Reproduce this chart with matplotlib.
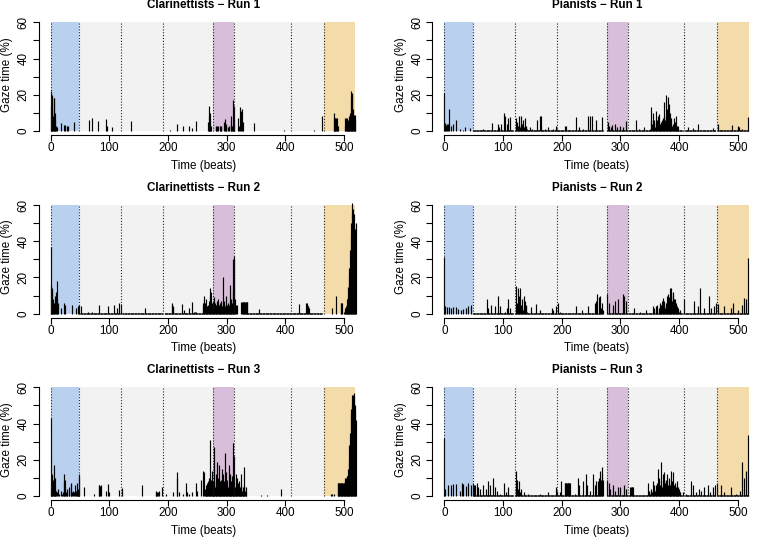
import numpy as np
import matplotlib
matplotlib.use("Agg")
import matplotlib.pyplot as plt

plt.rcParams['font.family'] = ['Liberation Sans', 'DejaVu Sans']

#score layout: section boundaries (beats) and shaded spans
n_beats = 521
section_bounds = [0, 49, 120, 192, 277, 313, 409, 465]
span_starts = [0, 49, 277, 313, 465]
span_ends = [49, 277, 313, 465, 519]
span_colors = ['#B9D1EE', '#F2F2F2', '#D8BED9', '#F2F2F2', '#F4DBAA']

#gaze time (%) per beat, stored as (first beat, consecutive values)
clar_run1 = [
    (0, [14, 22, 20, 12, 8, 18, 18, 10, 6, 3]), (11, [2.4]), (18, [4.2]),
    (23, [3.3, 0, 3.3]), (28, [3, 0, 3]), (40, [4.8]), (65, [6]), (71, [7]),
    (80, [5.7]), (95, [6.6, 3]), (105, [2.4]), (136, [5.5]), (203, [0.8]),
    (215, [3.7]), (226, [3]), (236, [2.8]), (240, [1.8]), (247, [5.7]),
    (268, [5, 8, 14, 10, 6, 3]),
    (281, [2.5, 2, 0, 3, 2.5, 0, 0, 0, 3, 2, 3, 0, 0, 0, 0, 5, 6.5, 4, 3, 0,
           0, 2, 3, 0, 0, 0, 4, 8, 3, 2, 17, 14, 6]),
    (319, [7, 0, 3, 0, 13, 0, 11, 12, 5]), (347, [4.6]), (398, [0.8]),
    (449, [0.8]), (463, [8.5]), (482, [10, 7, 7, 7, 7, 7, 2, 3]),
    (501, [7, 3, 7, 5, 7, 6, 5, 4, 8, 10, 18, 22, 21, 20, 12, 9, 7, 6, 9]),
]
clar_run2 = [
    (0, [37, 16, 14, 12, 8, 6, 3, 0, 10, 12, 8, 18, 6]), (17, [3]),
    (23, [6, 0, 5]), (36, [5]), (43, [3]), (47, [4.5, 0, 5, 0, 0, 4]),
    (63, [1]), (71, [1]), (82, [5]), (97, [4.5]), (108, [5]), (113, [3]),
    (117, [6, 0, 5.5]), (160, [3]), (206, [5, 6, 4, 3]), (223, [5.5]),
    (227, [2]), (235, [3]), (240, [6.5]), (244, [1, 0, 1, 0, 1]),
    (259, [6, 4, 7, 10, 6, 5, 8, 4, 3, 5, 2, 7, 14, 10, 12, 6, 3, 7, 5, 4,
           9, 6, 5, 4, 7, 3, 8, 5, 4, 6, 3, 5, 7, 4, 6, 20, 5, 7, 4, 3,
           10, 5, 4, 6, 3, 5, 16, 8, 4, 8, 6, 12, 30, 32, 30, 8, 5, 0, 5]),
    (325, [6.5, 6.5, 6.5, 6.5, 6.5, 6.5, 6.5, 6.5, 6.5, 6.5, 6.5]),
    (355, [2.5]), (423, [5.5]), (435, [6, 5, 6, 4, 4, 3]), (452, [0.5]),
    (480, [3]), (486, [10]), (494, [6, 6, 0, 6]),
    (500, [1, 2, 3, 4, 5, 8, 10, 15, 20, 25, 35, 42, 50, 55, 61, 58, 55,
           50, 47, 45, 50]),
]
clar_run3 = [
    (0, [43, 4, 6, 12, 9, 5, 17, 10, 4, 3, 2, 0, 0, 4, 1, 0, 0, 3, 0, 1, 0,
         2, 12, 8, 9, 0, 2, 4, 3, 0, 0, 5, 3, 0, 6.5, 7, 2, 0, 3, 2, 0, 0,
         6, 3, 4, 7, 4, 2, 12, 10]),
    (57, [5]), (74, [1]), (82, [6, 6, 5.5, 6]), (94, [3, 0, 0, 6.5, 0, 2]),
    (116, [3.5]), (122, [4.5]), (156, [6]), (179, [2.5, 2, 2, 0, 2, 0, 2.5]),
    (189, [5]), (196, [1]), (209, [2]), (215, [13, 10]), (218, [2]),
    (226, [1]), (230, [7, 0, 0, 2]), (236, [1]), (241, [2]), (247, [7, 0, 3]),
    (256, [9, 0, 0, 14, 0, 13]),
    (263, [4, 6, 3, 5, 7, 8, 4, 10, 6, 31, 9, 14, 5, 8, 6, 27, 8, 5, 12, 7,
           19, 6, 10, 5, 17, 8, 4, 9, 6, 15, 7, 12, 5, 8, 24, 13, 6, 4, 9, 5,
           7, 17, 6, 12, 4, 8, 11, 6, 29, 22, 9, 5, 12, 6, 4, 10, 7, 3, 8, 5,
           4, 12, 6, 3, 5, 4, 16, 6, 3, 5, 2]),
    (358, [0.5]), (369, [0.5]), (392, [4]), (477, [1, 0, 1, 0, 0, 1]),
    (489, [7, 7, 7, 7, 7, 7, 7, 7, 7, 7, 7, 7]),
    (501, [8, 10, 10, 11, 11, 11, 15, 20, 28, 35, 45, 48, 50, 56, 56, 57, 55,
           50, 47, 42]),
]
pian_run1 = [
    (0, [21, 0, 4.5, 3.5, 4, 0, 0, 4, 12, 0, 0, 3, 0, 0, 4, 0, 0, 0, 0, 0, 6]),
    (27, [1]), (32, [0.5]), (35, [2]), (44, [1.5]), (66, [1]), (82, [4.5]),
    (92, [4, 2]), (97, [4]), (101, [10]), (104, [8]), (107, [4]), (109, [7]),
    (112, [7.5]),
    (122, [7, 3, 5, 2, 3, 8, 4, 2, 8.5, 3, 4, 2, 6, 1, 2, 3, 7, 2, 3, 1]),
    (146, [2]), (150, [1]), (158, [6]), (163, [8.5, 2, 8]), (171, [1]),
    (176, [2]), (185, [1]), (191, [3, 1]), (205, [2.5, 0, 0, 3]), (225, [7.5]),
    (230, [2]), (236, [1]), (245, [8.5]), (249, [8.5]), (252, [8]), (259, [6]),
    (269, [7.5]),
    (279, [4.7, 0, 3, 0, 0, 2, 3.5, 0, 0, 0, 0, 4, 0, 0, 0, 2, 0, 0, 0, 0, 3,
           0, 0, 0, 0, 2, 0, 0, 0, 0, 0, 5.5]),
    (327, [6]), (332, [1]), (341, [2]), (350, [1]),
    (352, [13, 6, 4, 10, 3, 5, 6, 2, 4, 11, 3, 6, 8, 5, 9.5, 4, 3, 5, 2, 6, 7,
           4, 8, 16, 6, 20, 8, 12, 5, 19, 7, 15, 4, 10, 6, 7, 3, 4, 2, 7, 3,
           5, 0, 8, 2, 3, 0, 3]),
    (415, [2]), (423, [1.5]), (432, [4]), (458, [1.5]), (466, [4]),
    (491, [3.5]), (500, [2.5, 0, 2]), (508, [1]), (517, [7.5]),
]
pian_run2 = [
    (0, [31.5]), (2, [4]), (5, [3.5]), (8, [3.5]), (11, [3]), (14, [3.5]),
    (20, [3.5]), (24, [2.5]), (28, [2]), (32, [2.5]), (37, [3]), (41, [4]),
    (45, [5]), (72, [8]), (75, [3]), (80, [5]), (86, [4.5]), (92, [9.5]),
    (95, [4]), (103, [1]), (106, [3]), (109, [8]), (112, [3]),
    (122, [2, 15.5, 6, 14, 4, 10, 3, 14, 5, 3, 8, 4, 2, 10, 3, 7, 2, 4, 5, 1]),
    (148, [3.5]), (156, [5.5]), (163, [2]), (183, [3]), (186, [2]),
    (191, [4.5, 0, 0, 6]), (197, [1]), (225, [4]), (234, [2]), (245, [4.5]),
    (256, [6, 0, 0, 7, 0, 11, 0, 0, 9, 0, 10, 3, 6, 0, 2]),
    (278, [11, 0, 6, 0, 0, 0, 0, 0, 0, 5, 0, 0, 0, 7, 0, 0, 0, 0, 8, 0, 0, 0,
           0, 0, 0, 0, 11, 0, 0, 9.5, 0, 0, 7]),
    (324, [3]), (333, [1]), (344, [2]),
    (355, [4, 0, 2, 3, 0, 0, 4, 2, 5, 0, 3, 0, 6, 4, 5, 3, 7, 5, 8.5, 4, 7, 3,
           6, 5, 10, 7, 11, 6, 9, 14, 8, 12, 14, 7, 12, 10, 8, 5, 8, 4, 6, 3,
           4, 2, 3, 1, 2, 1]),
    (409, [8]), (426, [7]), (432, [4]), (436, [14]), (443, [3]), (451, [9.5]),
    (455, [3]), (460, [4, 0, 0, 6, 0, 0, 5.5]), (477, [4]), (489, [3]),
    (492, [6]), (500, [2]), (508, [5, 0, 0, 8.5, 0, 0, 8, 0, 0, 31]),
]
pian_run3 = [
    (0, [32]), (2, [4]), (7, [6]), (11, [6]), (14, [6.5]), (20, [6.5]),
    (27, [3]), (30, [7]), (32, [6.5]), (37, [5.5]), (41, [7]), (45, [6]),
    (49, [7, 0, 6, 6, 0, 0, 7, 0, 5, 0, 0, 4]), (66, [6]), (71, [4]),
    (75, [8]), (78, [6]), (83, [10]), (86, [5]), (89, [3]), (95, [1]),
    (101, [7]), (105, [2]), (109, [5]), (122, [14, 5, 9, 3, 4, 0, 8, 2, 0, 4]),
    (135, [2]), (143, [1]), (151, [0.5]), (163, [1]), (177, [2]),
    (191, [5, 3]), (197, [2]), (199, [8]),
    (205, [7, 7, 7, 7, 7, 7, 7, 7, 7, 7]), (222, [1]), (228, [10, 0, 6]),
    (236, [8]), (241, [12, 0, 6]), (248, [3]), (253, [12, 0, 0, 6, 0, 0, 8]),
    (262, [8, 6, 10, 7, 14, 9, 16, 12, 9]),
    (278, [9, 0, 7, 0, 0, 4, 0, 0, 0, 6, 0, 0, 0, 3, 0, 0, 0, 0, 5, 0, 0, 0,
           5, 0, 0, 0, 0, 0, 0, 6, 0, 0, 4]),
    (317, [5, 5, 5, 5, 5]), (338, [0.5]),
    (347, [7, 2, 3, 0, 1, 3, 4, 2, 3, 8, 4, 6, 3, 6, 3, 7, 2, 15, 5, 10, 6, 3,
           19, 8, 5, 12, 6, 9, 13, 7, 5, 9, 4, 12, 6, 10, 8, 6, 5, 14, 7, 8,
           4, 13, 6, 3, 7, 5, 2, 8, 4, 5, 3, 4, 2, 2, 0, 0, 0, 0, 2]),
    (412, [1]), (421, [8, 0, 6]), (429, [2]), (434, [4]), (438, [3]),
    (443, [5]), (449, [6]), (452, [2]), (457, [5]), (461, [6]), (464, [7]),
    (472, [6]), (477, [2]), (489, [5]), (497, [1]), (503, [3]),
    (508, [19, 0, 0, 10, 0, 0, 14, 0, 0, 33.5]),
]

#stretches of very low but non-zero gaze time (start beat, end beat)
clar_floor = [(50, 118), (122, 190), (194, 268), (330, 462)]
pian_floor = [(49, 117), (121, 190), (193, 270), (278, 312), (314, 406),
              (410, 462), (466, 518)]

panels = [
    ('Clarinettists \u2212 Run 1', clar_run1, clar_floor, 0.15),
    ('Pianists \u2212 Run 1', pian_run1, pian_floor, 0.6),
    ('Clarinettists \u2212 Run 2', clar_run2, clar_floor, 0.15),
    ('Pianists \u2212 Run 2', pian_run2, pian_floor, 0.6),
    ('Clarinettists \u2212 Run 3', clar_run3, clar_floor, 0.15),
    ('Pianists \u2212 Run 3', pian_run3, pian_floor, 0.6),
]


def expand(segments, floor_runs, floor_level):
    y = np.zeros(n_beats)
    for a, b in floor_runs:
        y[a:b + 1] = floor_level
    for start, vals in segments:
        for i, v in enumerate(vals):
            if v > 0:
                y[start + i] = v
    return y


W, H = 762, 538
fig = plt.figure(figsize=(W / 100, H / 100), dpi=100)

col_left = [38.5, 432.1]
row_top = [18.0, 200.7, 383.0]
ax_w, ax_h = 329.6, 117.3
fs = 8.4

for k, (title, segs, floor_runs, floor_level) in enumerate(panels):
    r, c = divmod(k, 2)
    ax = fig.add_axes([col_left[c] / W, 1 - (row_top[r] + ax_h) / H, ax_w / W, ax_h / H])
    ax.set_facecolor('none')
    ax.set_xlim(-20.8, 540.8)
    ax.set_ylim(-2.4, 62.4)

    #shaded score sections
    for a, b, col in zip(span_starts, span_ends, span_colors):
        ax.fill_between([a, b], 0, 60, color=col, lw=0, zorder=0)

    #gaze time as vertical lines (R type = "h")
    y = expand(segs, floor_runs, floor_level)
    beats = np.arange(n_beats)
    nz = y > 0
    ax.vlines(beats[nz], 0, y[nz], colors='black', lw=0.85, zorder=2)

    #section boundaries
    ax.vlines(section_bounds, 0, 60, colors='#222222', linestyles=(0, (1, 1.6)),
              lw=0.8, zorder=3)

    for s in ['top', 'right']:
        ax.spines[s].set_visible(False)
    ax.spines['bottom'].set_bounds(0, 500)
    ax.spines['left'].set_bounds(0, 60)
    ax.spines['bottom'].set_linewidth(0.8)
    ax.spines['left'].set_linewidth(0.8)

    ax.set_xticks(range(0, 501, 100))
    ax.set_yticks(range(0, 61, 10))
    ax.set_yticklabels(['0', '', '20', '', '40', '', '60'])
    ax.tick_params(length=4.3, width=0.8, labelsize=fs)
    ax.tick_params(axis='x', pad=0.8)
    ax.tick_params(axis='y', pad=2, labelrotation=90)
    for lab in ax.get_yticklabels():
        lab.set_va('center')

    ax.set_xlabel('Time (beats)', fontsize=fs)
    ax.xaxis.set_label_coords(0.5, -30.4 / ax_h)
    ax.xaxis.label.set_va('center')
    ax.set_ylabel('Gaze time (%)', fontsize=fs)
    ax.yaxis.set_label_coords(-31.5 / ax_w, 0.52)
    ax.yaxis.label.set_va('center')

    ax.text(0.5, 1 + 13 / ax_h, title, transform=ax.transAxes, ha='center',
            va='center', fontsize=fs, fontweight='bold')

fig.savefig('out.png', dpi=100)
